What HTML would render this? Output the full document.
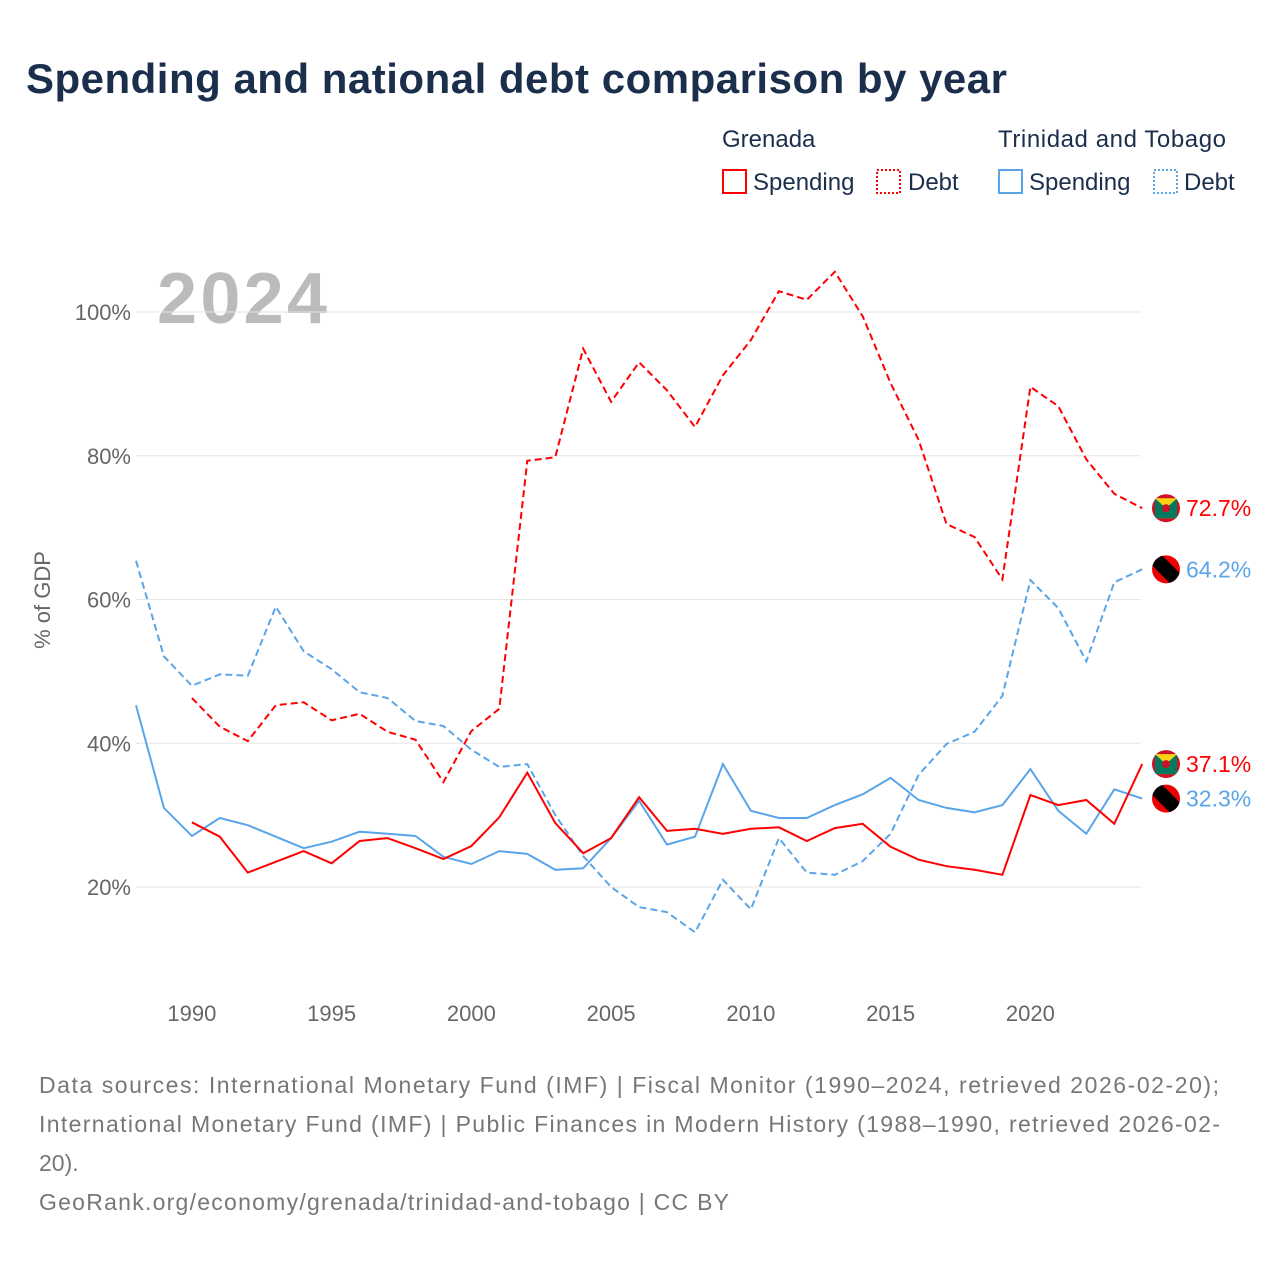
<!DOCTYPE html>
<html><head><meta charset="utf-8"><style>
body{margin:0;background:#fff;font-family:"Liberation Sans",sans-serif}
svg text{font-family:"Liberation Sans",sans-serif}
</style></head><body>
<svg width="1280" height="1280" viewBox="0 0 1280 1280">
<text x="26" y="93" font-size="42" font-weight="bold" fill="#1b2f4d" textLength="981">Spending and national debt comparison by year</text>
<g font-size="24" fill="#1b2f4d">
<text x="722" y="147" fill="#1b2f4d">Grenada</text>
<text x="998" y="147" fill="#1b2f4d" textLength="228">Trinidad and Tobago</text>
<g><rect x="723" y="170" width="23" height="23" fill="none" stroke="#f00" stroke-width="2"/><text x="753" y="190" fill="#1b2f4d">Spending</text></g>
<g><rect x="877" y="170" width="23" height="23" fill="none" stroke="#f00" stroke-width="2" stroke-dasharray="2,2"/><text x="908" y="190" fill="#1b2f4d">Debt</text></g>
<g><rect x="999" y="170" width="23" height="23" fill="none" stroke="#5aa5ea" stroke-width="2"/><text x="1029" y="190" fill="#1b2f4d">Spending</text></g>
<g><rect x="1154" y="170" width="23" height="23" fill="none" stroke="#5aa5ea" stroke-width="2" stroke-dasharray="2,2"/><text x="1184" y="190" fill="#1b2f4d">Debt</text></g>
</g>
<text x="157" y="323" font-size="72" font-weight="bold" fill="#bbb" textLength="170">2024</text>
<text transform="translate(50,600) rotate(-90)" text-anchor="middle" font-size="22" fill="#666">% of GDP</text>
<g id="grid"></g><g id="series"></g><g id="labels"></g>
<g font-size="23" fill="#777">
<text x="39" y="1093" textLength="1180">Data sources: International Monetary Fund (IMF) | Fiscal Monitor (1990–2024, retrieved 2026-02-20);</text>
<text x="39" y="1132" textLength="1181">International Monetary Fund (IMF) | Public Finances in Modern History (1988–1990, retrieved 2026-02-</text>
<text x="39" y="1171">20).</text>
<text x="39" y="1210" textLength="690">GeoRank.org/economy/grenada/trinidad-and-tobago | CC BY</text>
</g>
</svg>
<script>
const yTicks=[20,40,60,80,100];
const xTicks=[1990,1995,2000,2005,2010,2015,2020];
const grdSpendYears=[1990,1991,1992,1993,1994,1995,1996,1997,1998,1999,2000,2001,2002,2003,2004,2005,2006,2007,2008,2009,2010,2011,2012,2013,2014,2015,2016,2017,2018,2019,2020,2021,2022,2023,2024];
const grdSpending=[29.0,27.0,22.0,23.5,25.0,23.3,26.4,26.8,25.4,23.9,25.7,29.7,35.9,28.9,24.7,26.8,32.5,27.8,28.1,27.4,28.1,28.3,26.4,28.2,28.8,25.6,23.8,22.9,22.4,21.7,32.8,31.4,32.1,28.8,37.1];
const grdDebt=[46.3,42.3,40.3,45.3,45.7,43.2,44.1,41.6,40.5,34.6,41.7,44.8,79.3,79.8,94.9,87.5,93.0,89.1,84.0,91.2,96.1,102.9,101.7,105.6,99.4,90.1,82.2,70.5,68.7,62.8,89.6,86.9,79.5,74.7,72.7];
const ttYears=[1988,1989,1990,1991,1992,1993,1994,1995,1996,1997,1998,1999,2000,2001,2002,2003,2004,2005,2006,2007,2008,2009,2010,2011,2012,2013,2014,2015,2016,2017,2018,2019,2020,2021,2022,2023,2024];
const ttSpending=[45.3,31.0,27.1,29.6,28.6,27.0,25.4,26.3,27.7,27.4,27.1,24.2,23.2,25.0,24.6,22.4,22.6,26.8,32.0,25.9,27.0,37.1,30.6,29.6,29.6,31.4,32.9,35.2,32.1,31.0,30.4,31.4,36.4,30.6,27.4,33.6,32.3];
const ttDebt=[65.4,52.1,48.0,49.6,49.4,59.0,52.8,50.3,47.1,46.3,43.1,42.4,39.1,36.7,37.1,30.0,24.3,20.0,17.2,16.5,13.7,21.0,16.9,26.8,22.0,21.7,23.6,27.4,35.6,39.9,41.6,46.6,62.7,58.8,51.4,62.4,64.2];
const NS='http://www.w3.org/2000/svg';
const X=yr=>136+(yr-1988)*27.95;
const Y=v=>887-(v-20)*7.1875;
function mk(t,a,p){const e=document.createElementNS(NS,t);for(const k in a)e.setAttribute(k,a[k]);p.appendChild(e);return e;}
const grid=document.getElementById('grid');
yTicks.forEach(v=>{
 const l=mk('line',{x1:136,x2:1141,y1:Y(v),y2:Y(v),stroke:'#e6e6e6','stroke-width':1},grid);
 
 
 const t=mk('text',{x:131,y:Y(v)+8,'text-anchor':'end','font-size':22,fill:'#666'},grid);t.textContent=v+'%';
 
 
});
xTicks.forEach(yr=>{
 const t=mk('text',{x:X(yr),y:1021,'text-anchor':'middle','font-size':22,fill:'#666'},grid);t.textContent=yr;
 
 
});
const S=document.getElementById('series');
function line(years,vals,color,dash,name){
 const d=years.map((yr,i)=>(i?'L':'M')+X(yr).toFixed(1)+','+Y(vals[i]).toFixed(1)).join(' ');
 const p=mk('path',{d:d,fill:'none',stroke:color,'stroke-width':2,'stroke-dasharray':dash?'7,4':'none'},S);
 
 
}
const RED='#f00',BLUE='#5aa5ea';
line(grdSpendYears,grdDebt,RED,true,'line-grenada-debt');
line(ttYears,ttDebt,BLUE,true,'line-tt-debt');
line(ttYears,ttSpending,BLUE,false,'line-tt-spending');
line(grdSpendYears,grdSpending,RED,false,'line-grenada-spending');
const L=document.getElementById('labels');
function flag(v,type,color,name){
 const cy=Y(v);
 const g=mk('g',{},L);
 
 
 const cid='c'+name;
 const cp=mk('clipPath',{id:cid},g);mk('circle',{cx:1166,cy:cy,r:14},cp);
 const f=mk('g',{'clip-path':'url(#'+cid+')'},g);
 if(type==='grd'){
  mk('rect',{x:1150,y:cy-16,width:32,height:32,fill:'#ce1126'},f);
  mk('rect',{x:1155,y:cy-10,width:22,height:20,fill:'#fcd116'},f);
  mk('polygon',{points:`1155,${cy-10} 1177,${cy+10} 1155,${cy+10}`,fill:'#007a5e'},f);
  mk('polygon',{points:`1177,${cy-10} 1166,${cy} 1177,${cy+10}`,fill:'#007a5e'},f);
  mk('circle',{cx:1166,cy:cy,r:4,fill:'#ce1126'},f);
 }else{
  mk('rect',{x:1150,y:cy-16,width:32,height:32,fill:'#e00'},f);
  mk('polygon',{points:`1150,${cy-16} 1156,${cy-16} 1182,${cy+10} 1182,${cy+16} 1176,${cy+16} 1150,${cy-10}`,fill:'#fff'},f);
  mk('polygon',{points:`1152,${cy-16} 1160,${cy-16} 1182,${cy+6} 1182,${cy+16} 1172,${cy+16} 1150,${cy-6}`,fill:'#000'},f);
 }
 const t=mk('text',{x:1186,y:cy+8,'font-size':23,fill:color},g);t.textContent=v.toFixed(1)+'%';
}
flag(grdDebt[grdDebt.length-1],'grd',RED,'end-label-grenada-debt');
flag(ttDebt[ttDebt.length-1],'tt',BLUE,'end-label-tt-debt');
flag(grdSpending[grdSpending.length-1],'grd',RED,'end-label-grenada-spending');
flag(ttSpending[ttSpending.length-1],'tt',BLUE,'end-label-tt-spending');
</script>
</body></html>
